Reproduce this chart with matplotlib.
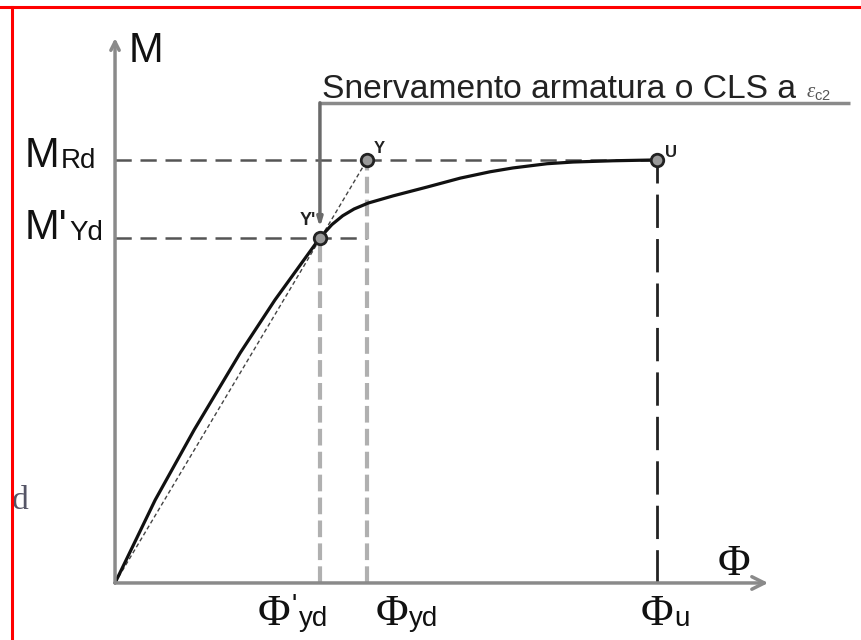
import matplotlib.pyplot as plt
from matplotlib.lines import Line2D
from matplotlib.transforms import Bbox, TransformedBbox

plt.rcParams['mathtext.fontset'] = 'custom'
plt.rcParams['mathtext.rm'] = 'Liberation Serif'
plt.rcParams['mathtext.sf'] = 'Liberation Sans'
plt.rcParams['mathtext.it'] = 'Liberation Serif:italic'

# moment-curvature curve (curvature normalised to phi_u, moment to M_Rd)
phi_curve = [0.0, 0.074, 0.146, 0.231, 0.295, 0.378, 0.400, 0.420, 0.441, 0.467,
             0.513, 0.576, 0.637, 0.692, 0.734, 0.797, 0.845, 0.919, 1.0]
m_curve = [0.0, 0.196, 0.362, 0.544, 0.669, 0.816, 0.847, 0.868, 0.884, 0.898,
           0.915, 0.936, 0.957, 0.972, 0.981, 0.991, 0.995, 0.998, 1.0]

# characteristic points
phi_yd_first = 0.378   # Y'
m_yd_first = 0.816
phi_yd = 0.465         # Y
m_rd = 1.0
phi_u = 1.0            # U

axis_x_end = 1.205
axis_y_end = 1.288
snerv_y = 1.135
snerv_x_end = 1.356
snerv_arrow_y = 0.84

fig = plt.figure(figsize=(8.62, 6.40), dpi=100)
ax = fig.add_axes([0, 0, 1, 1])
ax.set_xlim(-0.2122, 1.378)
ax.set_ylim(-0.1348, 1.378)
ax.axis('off')

axis_col = '#8a8a8a'
ink = '#111111'
sans = 'Liberation Sans'
serif = 'Liberation Serif'


def sub_label(x, y, main, sub, size, sub_size, main_family, dy=6.0, dx=1.0):
    t = ax.text(x, y, main, fontsize=size, family=main_family, color=ink,
                ha='left', va='baseline')
    s = ax.annotate(sub, xy=(1, 0), xycoords=t, xytext=(dx, dy),
                    textcoords='offset points', fontsize=sub_size, family=sans,
                    color=ink, ha='left', va='baseline')
    return t, s


# axes with open arrow heads
ax.annotate('', xy=(axis_x_end, 0), xytext=(0, 0),
            arrowprops=dict(arrowstyle='->,head_length=0.9,head_width=0.45',
                            color=axis_col, lw=2.5, shrinkA=0, shrinkB=0))
ax.annotate('', xy=(0, axis_y_end), xytext=(0, 0),
            arrowprops=dict(arrowstyle='->,head_length=0.6,head_width=0.3',
                            color=axis_col, lw=2.5, shrinkA=0, shrinkB=0))

# "snervamento" pointer
ax.plot([phi_yd_first, snerv_x_end], [snerv_y, snerv_y], color=axis_col, lw=2.5,
        solid_capstyle='butt')
ax.annotate('', xy=(phi_yd_first, snerv_arrow_y), xytext=(phi_yd_first, snerv_y),
            arrowprops=dict(arrowstyle='-|>,head_length=0.5,head_width=0.15',
                            color='#6a6a6a', lw=2.5, shrinkA=0, shrinkB=0))
st = ax.text(0.382, 1.146, 'Snervamento armatura o CLS a', fontsize=24.2,
             family=sans, color='#222222', ha='left', va='baseline')
ax.annotate(r'$\varepsilon_{\mathsf{c2}}$', xy=(1, 0), xycoords=st, xytext=(7, 6),
            textcoords='offset points', fontsize=15, color='#555555',
            ha='left', va='baseline')

# reference dashed lines
ax.plot([0, phi_u], [m_rd, m_rd], color='#555555', lw=1.8, dashes=(6.5, 3.5))
ax.plot([0, phi_yd], [m_yd_first, m_yd_first], color='#555555', lw=1.8, dashes=(6.5, 3.5))
ax.plot([phi_yd_first, phi_yd_first], [0, m_yd_first], color='#b0b0b0', lw=3, dashes=(4, 1.5))
ax.plot([phi_yd, phi_yd], [0, m_rd], color='#b0b0b0', lw=3, dashes=(4, 1.5))
ax.plot([phi_u, phi_u], [0, m_rd], color='#222222', lw=2, dashes=(12, 4))
ax.plot([0, phi_yd], [0, m_rd], color='#444444', lw=1.0, dashes=(3, 2))

# M-phi curve
ax.plot(phi_curve, m_curve, color=ink, lw=2.3, solid_capstyle='round',
        solid_joinstyle='round')

# points
ax.plot([phi_yd_first, phi_yd, phi_u], [m_yd_first, m_rd, m_rd], 'o', ms=9,
        mfc='#9a9a9a', mec='#222222', mew=2)
ax.text(phi_yd_first - 0.008, m_yd_first + 0.02, "Y'", fontsize=13, family=sans,
        weight='bold', color='#222222', ha='right', va='bottom')
ax.text(phi_yd + 0.012, m_rd + 0.01, 'Y', fontsize=12, family=sans,
        weight='bold', color='#222222', ha='left', va='bottom')
ax.text(phi_u + 0.014, m_rd + 0.0, 'U', fontsize=12, family=sans,
        weight='bold', color='#222222', ha='left', va='bottom')

# axis labels
ax.text(0.025, axis_y_end - 0.03, 'M', fontsize=30, family=sans, color=ink,
        ha='left', va='center')
ax.text(1.112, 0.045, 'Φ', fontsize=32, family=serif, color=ink,
        ha='left', va='center')

# moment labels
sub_label(-0.166, 0.983, 'M', 'Rd', 30, 20, sans, dy=6)
sub_label(-0.166, 0.812, "M'", 'Yd', 30, 20, sans, dy=6, dx=1)

# curvature labels
phi_t, apos = sub_label(0.263, -0.10, 'Φ', "'", 32, 20, serif, dy=15, dx=1)
ax.annotate('yd', xy=(1, 0), xycoords=phi_t, xytext=(6, 6),
            textcoords='offset points', fontsize=20, family=sans,
            color=ink, ha='left', va='baseline')
sub_label(0.480, -0.10, 'Φ', 'yd', 32, 20, serif, dy=6, dx=1)
sub_label(0.969, -0.10, 'Φ', 'u', 32, 20, serif, dy=6, dx=1)

# stray letter on the left edge
d_txt = ax.text(0.033, 0.217, 'd', transform=ax.transAxes, fontsize=24,
                color='#555566', family=serif, ha='right', va='center')
d_txt.set_clip_box(TransformedBbox(Bbox([[13 / 862, 0], [1, 1]]), fig.transFigure))
d_txt.set_clip_on(True)

# red frame (top and left)
fig.add_artist(Line2D([0, 1], [1 - 7 / 640, 1 - 7 / 640], color='red', lw=2.2))
fig.add_artist(Line2D([12 / 862, 12 / 862], [0, 1 - 7 / 640], color='red', lw=2.2))

fig.savefig('out.png', dpi=100)
